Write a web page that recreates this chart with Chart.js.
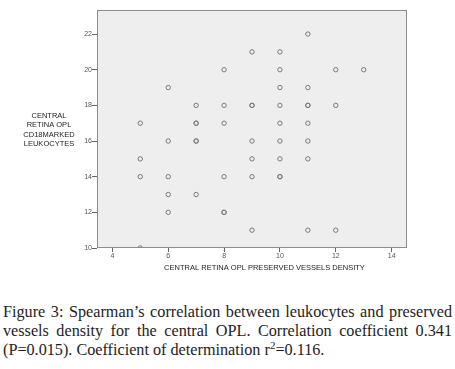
<!DOCTYPE html>
<html>
<head>
<meta charset="utf-8">
<script src="https://cdn.jsdelivr.net/npm/chart.js@4"></script>
<style>
  html, body { margin: 0; padding: 0; background: #ffffff; }
  #wrap { position: relative; width: 455px; height: 369px; overflow: hidden; }
  #c { position: absolute; left: 0; top: 0; }
  #cap { position: absolute; left: 3px; top: 303px; width: 449px;
         font-family: "Liberation Serif", "DejaVu Serif", serif; font-size: 16.2px;
         line-height: 19px; color: #1f1c1d; }
  #cap .j { text-align: justify; text-align-last: justify; }
  #cap .l { text-align: left; }
  #cap sup { font-size: 11px; line-height: 0; vertical-align: 6px; }
</style>
</head>
<body>
<div id="wrap">
  <canvas id="c" width="455" height="285" style="width:455px;height:285px"></canvas>
  <div id="cap">
    <div class="j">Figure 3: Spearman’s correlation between leukocytes and preserved</div>
    <div class="j">vessels density for the central OPL. Correlation coefficient 0.341</div>
    <div class="l">(P=0.015). Coefficient of determination r<sup>2</sup>=0.116.</div>
  </div>
</div>
<script>
// ---- data (duplicates appear as darker rings) ----
const vesselsDensity = [
  5, 5, 5, 5,
  6, 6, 6, 6, 6,
  7, 7, 7, 7, 7, 7,
  8, 8, 8, 8, 8, 8,
  9, 9, 9, 9, 9, 9, 9,
  10, 10, 10, 10, 10, 10, 10, 10, 10,
  11, 11, 11, 11, 11, 11, 11, 11,
  12, 12, 12,
  13
];
const leukocytes = [
  17, 15, 14, 10,
  19, 16, 14, 13, 12,
  18, 17, 17, 16, 16, 13,
  20, 18, 17, 14, 12, 12,
  21, 18, 18, 16, 15, 14, 11,
  21, 20, 19, 18, 17, 16, 15, 14, 14,
  22, 19, 18, 18, 17, 16, 15, 11,
  20, 18, 11,
  20
];
const xTickValues = [4, 6, 8, 10, 12, 14];
const yTickValues = [10, 12, 14, 16, 18, 20, 22];
const xAxisTitle = "CENTRAL RETINA OPL PRESERVED VESSELS DENSITY";
const yAxisTitleLines = ["CENTRAL", "RETINA OPL", "CD18MARKED", "LEUKOCYTES"];

const points = vesselsDensity.map((x, i) => ({ x: x, y: leukocytes[i] }));

const frame = {
  id: 'frame',
  beforeDraw(chart) {
    const { ctx, chartArea: a } = chart;
    ctx.save();
    ctx.fillStyle = '#eeeeee';
    ctx.fillRect(a.left, a.top, a.right - a.left, a.bottom - a.top);
    ctx.restore();
  },
  afterDraw(chart) {
    const { ctx, chartArea: a } = chart;
    ctx.save();
    ctx.strokeStyle = '#8c8c8c';
    ctx.lineWidth = 1;
    ctx.strokeRect(Math.round(a.left) + 0.5, Math.round(a.top) + 0.5,
                   Math.round(a.right - a.left) - 1, Math.round(a.bottom - a.top) - 1);
    ctx.fillStyle = '#222222';
    ctx.font = '7.5px "Liberation Sans", Arial, sans-serif';
    ctx.textAlign = 'center';
    ctx.textBaseline = 'middle';
    // horizontal multi-line y-axis title
    const cx = 49, cy = 130, lh = 9.4;
    yAxisTitleLines.forEach((t, i) => {
      ctx.fillText(t, cx, cy + (i - (yAxisTitleLines.length - 1) / 2) * lh);
    });
    // x-axis title (sits slightly right of the plot centre in the reference)
    ctx.fillText(xAxisTitle, 264.5, 268);
    ctx.restore();
  }
};

new Chart(document.getElementById('c'), {
  type: 'scatter',
  data: {
    datasets: [{
      data: points,
      pointStyle: 'circle',
      pointRadius: 2.2,
      pointHoverRadius: 2.2,
      borderWidth: 1,
      borderColor: '#7a7a7a',
      backgroundColor: 'rgba(0,0,0,0)',
      clip: 0
    }]
  },
  options: {
    responsive: false,
    devicePixelRatio: 1,
    animation: false,
    events: [],
    layout: { padding: { left: 0, top: 10, right: 48, bottom: 0 } },
    plugins: { legend: { display: false }, tooltip: { enabled: false } },
    scales: {
      x: {
        type: 'linear',
        min: 3.45,
        max: 14.55,
        afterBuildTicks(s) { s.ticks = xTickValues.map(v => ({ value: v })); },
        afterFit(s) { s.height = 37; },
        grid: { display: true, drawOnChartArea: false, drawTicks: true, tickLength: 4, color: '#666666' },
        border: { display: false },
        ticks: { color: '#555555', padding: 0, font: { size: 7, family: '"Liberation Sans", Arial, sans-serif' }, maxRotation: 0 },
        title: { display: false }
      },
      y: {
        type: 'linear',
        min: 10,
        max: 23.35,
        afterBuildTicks(s) { s.ticks = yTickValues.map(v => ({ value: v })); },
        afterFit(s) { s.width = 97; },
        grid: { display: true, drawOnChartArea: false, drawTicks: true, tickLength: 5, color: '#666666' },
        border: { display: false },
        ticks: { color: '#555555', padding: 0, font: { size: 7, family: '"Liberation Sans", Arial, sans-serif' } }
      }
    }
  },
  plugins: [frame]
});
</script>
</body>
</html>
